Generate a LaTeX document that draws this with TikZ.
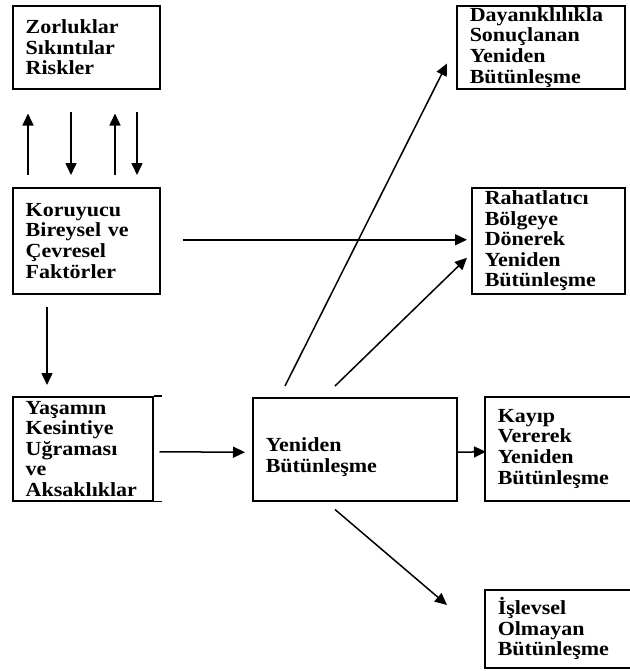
\documentclass[tikz,border=0pt]{standalone}
\usepackage{fontspec}
\setmainfont{Liberation Serif}[FakeStretch=1.1]
\usetikzlibrary{arrows.meta}

\begin{document}
\begin{tikzpicture}[
    x=0.5pt, y=-0.5pt,
    box/.style={rectangle, draw, line width=0.75pt, anchor=north west, align=left, inner xsep=6.5pt, inner ysep=0pt,
        font=\fontsize{10}{10.3}\selectfont\bfseries},
    arrow/.style={-{Triangle[length=6pt, width=5.5pt]}, line width=0.75pt}
]
\useasboundingbox (0,0) rectangle (630,671);

% left column
\node[box, text width=60.5pt, minimum height=41.5pt] (zorluk) at (12,5) {Zorluklar\\Sıkıntılar\\Riskler};
\node[box, text width=60.5pt, minimum height=53pt] (koruyucu) at (12,187) {Koruyucu\\Bireysel ve\\Çevresel\\Faktörler};
\node[box, text width=57pt, minimum height=52pt] (yasamin) at (12,396) {Yaşamın\\Kesintiye\\Uğraması\\ve\\Aksaklıklar};
\draw[line width=0.75pt] (yasamin.north east) -- ++(8,0);
\draw[line width=0.75pt] (yasamin.south east) -- ++(8,0);

% middle
\node[box, text width=89pt, minimum height=51.5pt] (yeniden) at (252,397) {\rule{0pt}{15pt}Yeniden\\Bütünleşme};

% right column
\node[box, text width=71pt, minimum height=41.5pt] (dayanik) at (456,5) {Dayanıklılıkla\\Sonuçlanan\\Yeniden\\Bütünleşme};
\node[box, text width=63.5pt, minimum height=53pt] (rahat) at (471,187) {Rahatlatıcı\\Bölgeye\\Dönerek\\Yeniden\\Bütünleşme};
\node[box, text width=61pt, minimum height=52pt] (kayip) at (484,396) {Kayıp\\Vererek\\Yeniden\\Bütünleşme};
\node[box, text width=61pt, minimum height=39pt] (islevsel) at (484,589) {İşlevsel\\Olmayan\\Bütünleşme};

% arrows between the first two boxes
\draw[arrow] ([xshift=8pt,yshift=6pt]koruyucu.north west) -- ([xshift=8pt,yshift=-12pt]zorluk.south west);
\draw[arrow] ([xshift=29.5pt,yshift=-11pt]zorluk.south west) -- ([xshift=29.5pt,yshift=6pt]koruyucu.north west);
\draw[arrow] ([xshift=51.5pt,yshift=6pt]koruyucu.north west) -- ([xshift=51.5pt,yshift=-12pt]zorluk.south west);
\draw[arrow] ([xshift=62.5pt,yshift=-11pt]zorluk.south west) -- ([xshift=62.5pt,yshift=6pt]koruyucu.north west);

\draw[arrow] ([xshift=11pt,yshift=0.5pt]koruyucu.east) -- ([xshift=-2pt,yshift=0.5pt]rahat.west);
\draw[arrow] ([xshift=17.5pt,yshift=-6pt]koruyucu.south west) -- ([xshift=17.5pt,yshift=5.5pt]yasamin.north west);
\draw[arrow] ([xshift=3pt,yshift=-1.5pt]yasamin.east) -- ([xshift=-3.5pt,yshift=-1.5pt]yeniden.west);

% from Yeniden Bütünleşme
\draw[arrow] ([xshift=16.5pt,yshift=5.5pt]yeniden.north west) -- ([xshift=-4.5pt,yshift=13pt]dayanik.south west);
\draw[arrow] ([xshift=41.5pt,yshift=5.5pt]yeniden.north west) -- ([xshift=-2pt,yshift=-8.5pt]rahat.west);
\draw[arrow] ([yshift=-1.5pt]yeniden.east) -- ([xshift=1pt,yshift=-1.5pt]kayip.west);
\draw[arrow] ([xshift=41.5pt,yshift=-4pt]yeniden.south west) -- ([xshift=-18.5pt,yshift=-8pt]islevsel.north west);

\end{tikzpicture}
\end{document}
